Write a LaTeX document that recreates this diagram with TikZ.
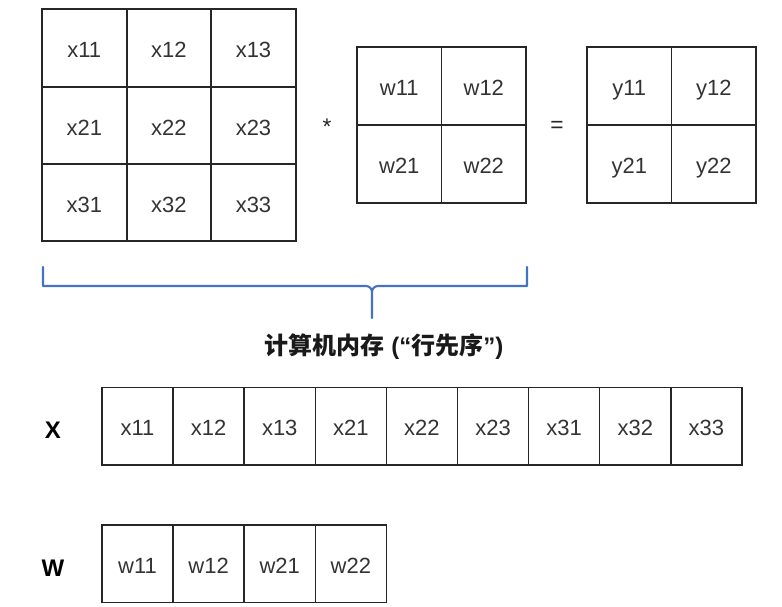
\documentclass[tikz,border=0pt]{standalone}
\usepackage{fontspec}
\setmainfont{Liberation Sans}
\newfontfamily\cjkfont{Noto Sans CJK SC}
\begin{document}
\begin{tikzpicture}[x=0.75pt,y=-0.75pt,
  cellbase/.style={inner sep=0pt, text=black!80, text height=11.5pt, text depth=0pt,
    font=\fontsize{16.5}{18}\selectfont, anchor=center},
  bigcell/.style={cellbase, minimum width=84.6*0.75pt, minimum height=77.3*0.75pt},
  wcell/.style={cellbase, minimum width=84.5*0.75pt, minimum height=78*0.75pt},
  rowcell/.style={cellbase, minimum width=71.1*0.75pt, minimum height=77.5*0.75pt},
  gridline/.style={draw=black!85, line width=1.15pt},
  op/.style={font=\fontsize{17}{18}\selectfont, text=black!85},
  lbl/.style={font=\fontsize{18}{20}\selectfont\bfseries, text=black},
  bracepath/.style={draw=braceblue, line width=1.6pt, line cap=round, line join=round}
]
\definecolor{braceblue}{HTML}{4472C4}
\useasboundingbox (0,0) rectangle (782,607);
% X matrix
\foreach \r/\yy in {1/48.3,2/125.6,3/202.9}{
  \foreach \c/\xx in {1/84.3,2/168.9,3/253.5}{
    \node[bigcell] (x\r\c) at (\xx,\yy+2) {x\r\c};
  }
}
\draw[gridline] (42,9) rectangle (296,241);
\draw[gridline] (127,9) -- (127,241) (211,9) -- (211,241) (42,87) -- (296,87) (42,164) -- (296,164);
% W matrix
\foreach \r/\yy in {1/86,2/164}{
  \foreach \c/\xx in {1/399.3,2/483.8}{
    \node[wcell] (w\r\c) at (\xx,\yy+2) {w\r\c};
  }
}
\draw[gridline] (357,47) rectangle (526,203);
\draw[gridline] (441.5,47) -- (441.5,203) (357,125) -- (526,125);
% Y matrix
\foreach \r/\yy in {1/86,2/164}{
  \foreach \c/\xx in {1/629.3,2/713.8}{
    \node[wcell] (y\r\c) at (\xx,\yy+2) {y\r\c};
  }
}
\draw[gridline] (587,47) rectangle (756,203);
\draw[gridline] (671.5,47) -- (671.5,203) (587,125) -- (756,125);
\node[op] (star) at (327,127) {*};
\node[op] (eq) at (557,127) {=};
% brace
\draw[bracepath] (43,267) -- (43,286) -- (366,286) to[out=0,in=90] (372,292) -- (372,318);
\draw[bracepath] (527,267) -- (527,286) -- (378,286) to[out=180,in=90] (372,292);
\node[font=\bfseries\fontsize{18}{20}\selectfont, text=black!90] (mem) at (384,347) {{\cjkfont 计算机内存} (“{\cjkfont 行先序}”)};
% X row
\node[lbl] (xl) at (53,430) {X};
\foreach \n/\lab in {0/x11,1/x12,2/x13,3/x21,4/x22,5/x23,6/x31,7/x32,8/x33}{
  \node[rowcell] (xr\n) at ({137.55+71.1*\n},428) {\lab};
}
\draw[gridline] (102,387.5) rectangle (742,465);
\foreach \n in {1,...,8}{ \draw[gridline] ({102+71.1*\n},387.5) -- ({102+71.1*\n},465); }
% W row
\node[lbl] (wl) at (53,568) {W};
\foreach \n/\lab in {0/w11,1/w12,2/w21,3/w22}{
  \node[rowcell] (wr\n) at ({137.55+71.1*\n},566) {\lab};
}
\draw[gridline] (102,525) rectangle (386.4,602.5);
\foreach \n in {1,2,3}{ \draw[gridline] ({102+71.1*\n},525) -- ({102+71.1*\n},602.5); }
\end{tikzpicture}
\end{document}
